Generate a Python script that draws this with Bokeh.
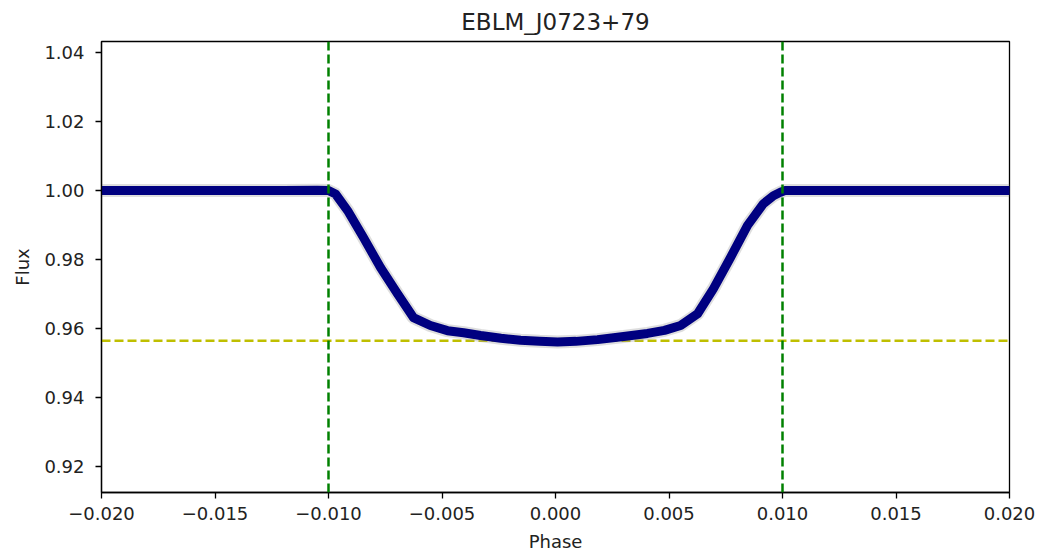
from bokeh.plotting import figure
from bokeh.models import Span, FixedTicker, CustomJSTickFormatter, Range1d
from bokeh.embed import file_html
from bokeh.resources import INLINE

title_text = "EBLM_J0723+79"
x_label = "Phase"
y_label = "Flux"

# binned light curve
phase = [-0.0200, -0.0170, -0.0140, -0.0120, -0.0105, -0.0100, -0.00969, -0.00916,
         -0.00846, -0.00771, -0.00696, -0.00626, -0.00551, -0.00476, -0.00405,
         -0.00330, -0.00240, -0.00154, -0.00070, 0.00009, 0.00090, 0.00185,
         0.00300, 0.00405, 0.00480, 0.00551, 0.00626, 0.00696, 0.00771,
         0.00846, 0.00916, 0.00960, 0.00991, 0.0101, 0.0120, 0.0140, 0.0170, 0.0200]
flux = [1.0000, 1.0000, 1.0000, 1.0000, 1.0001, 1.0000, 0.9990, 0.9942,
        0.9864, 0.9777, 0.9701, 0.9632, 0.9609, 0.9594, 0.9588,
        0.9580, 0.9572, 0.9566, 0.9563, 0.9561, 0.9563, 0.9568,
        0.9577, 0.9586, 0.9595, 0.9609, 0.9643, 0.9716, 0.9806,
        0.9899, 0.9962, 0.9985, 0.9995, 1.0000, 1.0000, 1.0000, 1.0000, 1.0000]

contacts = [-0.010, 0.010]
depth_level = 0.9565

x_ticks = [-0.020, -0.015, -0.010, -0.005, 0.0, 0.005, 0.010, 0.015, 0.020]
y_ticks = [0.92, 0.94, 0.96, 0.98, 1.00, 1.02, 1.04]

p = figure(width=1045, height=554, output_backend="svg", toolbar_location=None,
           x_range=Range1d(-0.020, 0.020), y_range=Range1d(0.9125, 1.0432),
           title=title_text, min_border_left=101, min_border_right=36,
           min_border_bottom=62, min_border_top=41)

p.title.align = "center"
p.title.text_font = "DejaVu Sans"
p.title.text_font_size = "23px"
p.title.text_font_style = "normal"
p.title.text_color = "#222222"
p.title.offset = 0
p.title.standoff = 13

p.xgrid.visible = False
p.ygrid.visible = False
p.outline_line_color = "black"
p.outline_line_width = 1.3
p.background_fill_color = "white"
p.border_fill_color = "white"

yline = Span(location=depth_level, dimension="width", line_color="#bfbf00",
             line_dash="9 4", line_width=2.5, level="underlay")
p.add_layout(yline)

p.line(phase, flux, line_color="#a0a0a0", line_width=13, line_alpha=0.35)
p.line(phase, flux, line_color="#000080", line_width=9, line_join="round", line_cap="round")

for c in contacts:
    p.add_layout(Span(location=c, dimension="height", line_color="green",
                      line_dash="9 4", line_width=2.5))

fmt_x = CustomJSTickFormatter(code="""
    if (Math.abs(tick) < 1e-12) { return '0.000'; }
    return (tick < 0 ? '\u2212' : '') + Math.abs(tick).toFixed(3);
""")
p.xaxis.ticker = FixedTicker(ticks=x_ticks)
p.xaxis.formatter = fmt_x
p.yaxis.ticker = FixedTicker(ticks=y_ticks)
p.yaxis.formatter = CustomJSTickFormatter(code="return tick.toFixed(2);")

for ax in (p.xaxis[0], p.yaxis[0]):
    ax.major_label_text_font = "DejaVu Sans"
    ax.major_label_text_font_size = "18px"
    ax.major_label_text_color = "#222222"
    ax.axis_label_text_font = "DejaVu Sans"
    ax.axis_label_text_font_size = "18px"
    ax.axis_label_text_font_style = "normal"
    ax.axis_label_text_color = "#222222"
    ax.major_tick_out = 6
    ax.major_tick_in = 0
    ax.minor_tick_out = 0
    ax.minor_tick_in = 0
    ax.axis_line_color = "black"
    ax.axis_line_width = 1.3
    ax.major_tick_line_color = "black"
    ax.major_tick_line_width = 1.3

p.yaxis.major_label_standoff = 11
p.xaxis.major_label_standoff = 8
p.xaxis.axis_label = x_label
p.yaxis.axis_label = y_label
p.xaxis.axis_label_standoff = 8
p.yaxis.axis_label_standoff = 8

open("out.html", "w").write(file_html(p, INLINE))
